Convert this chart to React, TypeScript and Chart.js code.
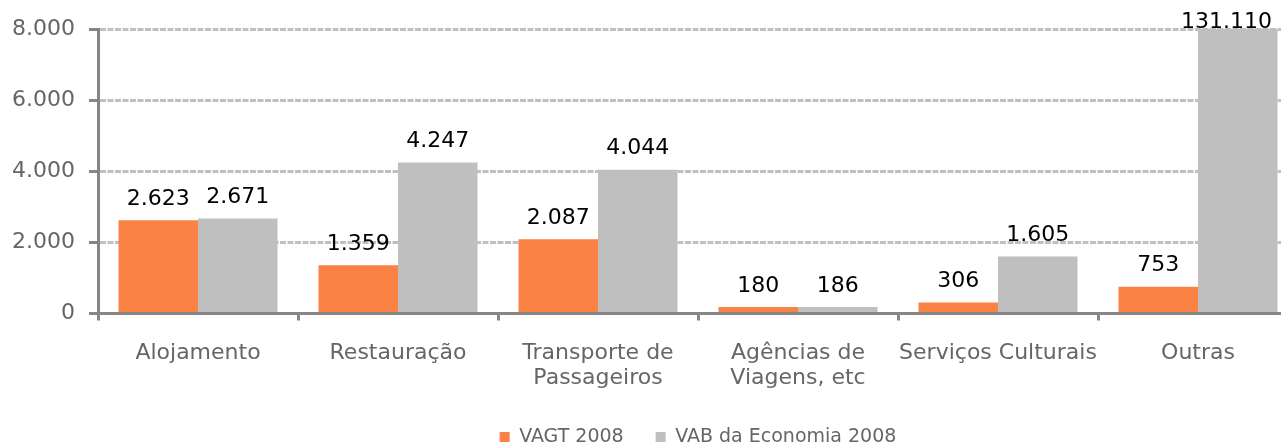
import React, { useEffect, useRef } from 'react';
import { Chart, registerables } from 'chart.js';

Chart.register(...registerables);

const categories: string[][] = [
  ['Alojamento'],
  ['Restauração'],
  ['Transporte de', 'Passageiros'],
  ['Agências de', 'Viagens, etc'],
  ['Serviços Culturais'],
  ['Outras'],
];
const vagt2008 = [2623, 1359, 2087, 180, 306, 753];
const vab2008 = [2671, 4247, 4044, 186, 1605, 131110];
const yTicks = [0, 2000, 4000, 6000, 8000];
const seriesNames = ['VAGT 2008', 'VAB da Economia 2008'];

const FONT = '"DejaVu Sans", Verdana, sans-serif';
const FS = 22;
const VIEW_W = 1281;
const VIEW_H = 446;
const CANVAS_W = 1298;

const fmt = (v: number) => String(Math.round(v)).replace(/\B(?=(\d{3})+(?!\d))/g, '.');

const valueLabels = {
  id: 'valueLabels',
  afterDatasetsDraw(chart: any) {
    const ctx = chart.ctx;
    const area = chart.chartArea;
    ctx.save();
    ctx.font = `${FS}px ${FONT}`;
    ctx.fillStyle = '#000000';
    ctx.textAlign = 'center';
    ctx.textBaseline = 'middle';
    chart.data.datasets.forEach((ds: any, i: number) => {
      const meta = chart.getDatasetMeta(i);
      meta.data.forEach((bar: any, j: number) => {
        const txt = fmt(ds.data[j]);
        const y = bar.y < area.top ? area.top - 7 : bar.y - 21;
        let x = bar.x;
        const w = ctx.measureText(txt).width;
        if (x + w / 2 > VIEW_W - 9) x = VIEW_W - 9 - w / 2;
        ctx.fillText(txt, x, y);
      });
    });
    ctx.restore();
  },
};

export default function App() {
  const ref = useRef<HTMLCanvasElement>(null);
  useEffect(() => {
    if (!ref.current) return;
    const font = { family: FONT, size: FS, lineHeight: 1.15 };
    const chart = new Chart(ref.current, {
      type: 'bar',
      data: {
        labels: categories,
        datasets: [
          {
            label: seriesNames[0],
            data: vagt2008,
            backgroundColor: '#F98244',
            borderWidth: 0,
            categoryPercentage: 0.795,
            barPercentage: 1,
          },
          {
            label: seriesNames[1],
            data: vab2008,
            backgroundColor: '#BFBFBF',
            borderWidth: 0,
            categoryPercentage: 0.795,
            barPercentage: 1,
          },
        ],
      },
      options: {
        responsive: false,
        animation: false,
        layout: { padding: { left: 0, right: 0, top: 29, bottom: -10.5 } },
        plugins: {
          legend: {
            position: 'bottom',
            fullSize: false,
            labels: {
              boxWidth: 10,
              boxHeight: 10,
              padding: 32,
              color: '#666666',
              font: { family: FONT, size: 19 },
            },
          },
          tooltip: { enabled: false },
        },
        scales: {
          x: {
            afterFit: (scale: any) => {
              scale.height = 82;
            },
            grid: {
              offset: true,
              drawOnChartArea: false,
              drawTicks: true,
              tickLength: 7,
              tickWidth: 3,
              tickColor: '#868686',
            },
            border: { color: '#868686', width: 3 },
            ticks: {
              color: '#666666',
              font,
              padding: 20,
              maxRotation: 0,
              autoSkip: false,
            },
          },
          y: {
            min: 0,
            max: 8000,
            afterFit: (scale: any) => {
              scale.width = 98;
            },
            afterBuildTicks: (scale: any) => {
              scale.ticks = yTicks.map((v) => ({ value: v }));
            },
            ticks: {
              color: '#666666',
              font,
              padding: 14,
              callback: (v: any) => fmt(Number(v)),
            },
            grid: {
              color: (c: any) => (c.tick && c.tick.value === 0 ? 'rgba(0,0,0,0)' : '#C0C0C0'),
              lineWidth: 3,
              tickColor: '#868686',
              tickLength: 9,
              tickWidth: 3,
            },
            border: { color: '#868686', width: 3, dash: [6, 1.5] },
          },
        },
      },
      plugins: [valueLabels],
    } as any);
    return () => chart.destroy();
  }, []);
  return (
    <div style={{ position: 'absolute', left: 0, top: 0, width: VIEW_W, height: VIEW_H, overflow: 'hidden' }}>
      <canvas ref={ref} width={CANVAS_W} height={VIEW_H} style={{ display: 'block' }} />
    </div>
  );
}
